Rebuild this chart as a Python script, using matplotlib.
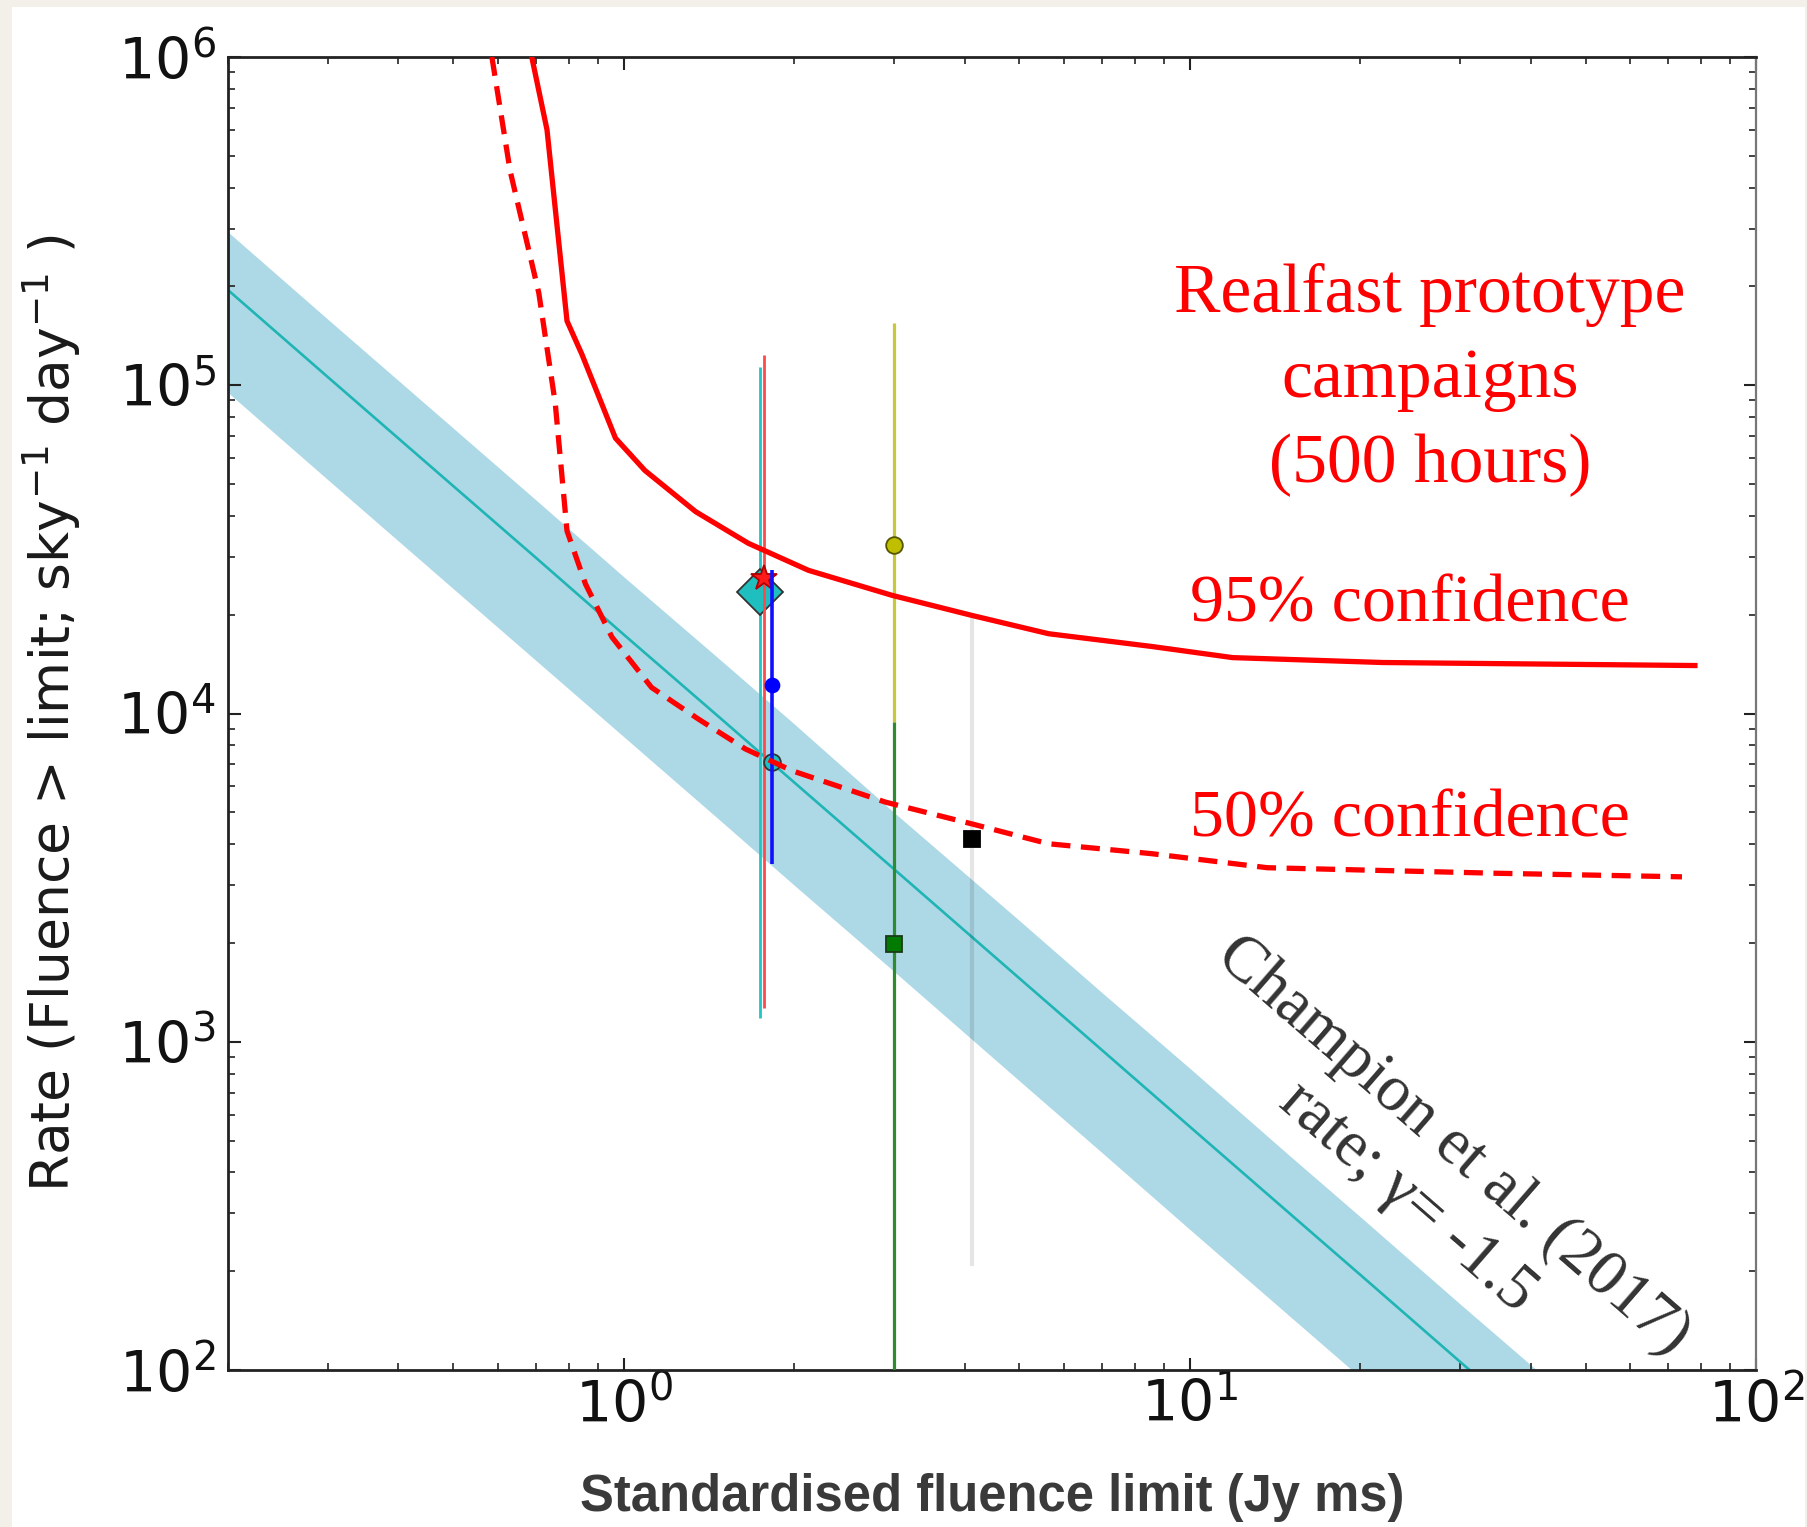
import matplotlib
matplotlib.use("Agg")
import matplotlib.pyplot as plt
from matplotlib.patches import Rectangle

# Champion et al. (2017) rate band, gamma = -1.5
model_fluence = [0.2, 0.3, 0.5, 0.7, 1.0, 1.5, 2.0, 3.0, 5.0, 7.0, 10.0, 15.0, 20.0, 30.0, 45.0]
model_rate = [1.95e5, 1.06e5, 4.93e4, 2.98e4, 1.74e4, 9.5e3, 6.17e3, 3.36e3, 1.56e3, 942, 551, 300, 195, 106, 57.8]
model_upper = [2.93e5, 1.59e5, 7.4e4, 4.47e4, 2.61e4, 1.43e4, 9.3e3, 5.0e3, 2.34e3, 1.41e3, 830, 450, 293, 159, 87]
model_lower = [9.5e4, 5.16e4, 2.4e4, 1.45e4, 8.5e3, 4.63e3, 3.0e3, 1.64e3, 760, 459, 268, 146, 95, 52, 28]

# Realfast prototype campaign limits
c95_fluence = [0.688, 0.732, 0.794, 0.844, 0.967, 1.09, 1.34, 1.66, 2.12, 2.98, 4.12, 5.63, 8.57, 11.9, 21.9, 78.0]
c95_rate = [1.0e6, 6.0e5, 1.57e5, 1.24e5, 6.9e4, 5.5e4, 4.12e4, 3.3e4, 2.73e4, 2.29e4, 1.99e4, 1.75e4, 1.60e4, 1.48e4, 1.43e4, 1.40e4]
c50_fluence = [0.585, 0.63, 0.708, 0.757, 0.794, 0.856, 0.953, 1.12, 1.357, 1.64, 1.98, 2.90, 4.12, 5.63, 8.57, 13.7, 35.0, 74.0]
c50_rate = [1.0e6, 4.5e5, 1.91e5, 8.8e4, 3.6e4, 2.48e4, 1.71e4, 1.2e4, 9.6e3, 7.8e3, 6.7e3, 5.37e3, 4.61e3, 4.01e3, 3.74e3, 3.39e3, 3.26e3, 3.18e3]

# Survey rate measurements: fluence, rate, lower end, upper end
surv_cyan = (1.74, 2.34e4, 1.18e3, 1.14e5)
surv_red = (1.77, 2.58e4, 1.27e3, 1.24e5)
surv_blue = (1.83, 1.22e4, 3.49e3, 2.73e4)
surv_teal = (1.83, 7.14e3)
surv_yellow = (3.0, 3.25e4, 9.4e3, 1.55e5)
surv_green = (3.0, 1.99e3, 10.0, 9.4e3)
surv_black = (4.13, 4.15e3, 207.0, 1.96e4)

W, H = 1808, 1527
fig = plt.figure(figsize=(W / 100, H / 100), dpi=100)
fig.patch.set_facecolor("#f3f0e9")
fig.patches.append(Rectangle((12 / W, 0), (1805 - 12) / W, 1 - 7 / H,
                             transform=fig.transFigure, facecolor="white",
                             edgecolor="none", zorder=-10))

ax = fig.add_axes([228 / W, 1 - 1370 / H, (1756 - 228) / W, (1370 - 57) / H])
ax.set_zorder(1)
ax.set_facecolor("white")
ax.set_xscale("log")
ax.set_yscale("log")
ax.set_xlim(0.2, 100)
ax.set_ylim(100, 1e6)

ax.fill_between(model_fluence, model_lower, model_upper, color="#add8e6", lw=0, zorder=1)
ax.plot(model_fluence, model_rate, color="#1fb5b5", lw=1.9, zorder=2)


def survey(pt, marker, ms, mfc, mec, ecolor, lw=2.0, z=3):
    x, y, lo, hi = pt
    ax.errorbar([x], [y], yerr=[[y - lo], [hi - y]], fmt=marker, ms=ms,
                mfc=mfc, mec=mec, mew=1.3, ecolor=ecolor, elinewidth=lw,
                capsize=0, zorder=z)


survey(surv_cyan, "D", 23, "#1fbfbf", "#333333", "#22c4c4", z=3)
survey(surv_red, "*", 19, "#ff1a1a", "#b00000", "#ff4a4a", z=4)
ax.plot([surv_teal[0]], [surv_teal[1]], "o", ms=12, mfc="#1fbfbf", mec="#333333", mew=1.3, zorder=4)
survey(surv_blue, "o", 10, "#0000ff", "#0000ff", "#1010ff", lw=2.6, z=5)
survey(surv_yellow, "o", 12, "#bfbf00", "#555500", "#c8c83a", lw=2.3, z=3)
survey(surv_green, "s", 12, "#007a00", "#1a3a1a", "#2e8b2e", lw=2.3, z=4)
survey(surv_black, "s", 12, "black", "black", (0, 0, 0, 0.1), lw=3.0, z=3)

ax.plot(c95_fluence, c95_rate, color="red", lw=3.8, zorder=6)
ax.plot(c50_fluence, c50_rate, color="red", lw=3.8, ls=(0, (3.6, 2.0)), zorder=6)

# axes styling
for side in ("left", "bottom", "top"):
    ax.spines[side].set_linewidth(2.0)
    ax.spines[side].set_color("#222222")
ax.spines["right"].set_linewidth(1.6)
ax.spines["right"].set_color("#777777")
ax.tick_params(which="both", direction="in", top=True, right=True, colors="#222222")
ax.tick_params(which="major", length=9, width=1.5)
ax.tick_params(which="minor", length=5, width=1.2)
ax.tick_params(axis="x", which="major", labelsize=41, pad=6, labelcolor="#111111")
ax.tick_params(axis="y", which="major", labelsize=41, pad=9, labelcolor="#111111")
ax.set_xticks([1, 10, 100])
ax.set_xticklabels([r"$10^{0}$", r"$10^{1}$", r"$10^{2}$"])
ax.set_yticks([1e2, 1e3, 1e4, 1e5, 1e6])
ax.set_yticklabels([r"$10^{2}$", r"$10^{3}$", r"$10^{4}$", r"$10^{5}$", r"$10^{6}$"])

ax.set_xlabel("Standardised fluence limit (Jy ms)", fontsize=36.5, fontweight="bold",
              family="Liberation Sans", color="#3a3a3a")
ax.xaxis.set_label_coords(0.5, -(1497 - 1370) / (1370 - 57))
ax.xaxis.label.set_va("center")
ax.set_ylabel(r"Rate (Fluence > limit; sky$^{-1}$ day$^{-1}$ )", fontsize=38.5,
              family="DejaVu Sans", color="#1a1a1a", va="center")
ax.yaxis.set_label_coords(-(228 - 52) / (1756 - 228), 0.5)

serif = ["Liberation Serif", "DejaVu Serif"]
fig.text(1430 / W, 1 - 380 / H, "Realfast prototype\ncampaigns\n(500 hours)",
         color="red", fontsize=50, family=serif, ha="center", va="center",
         multialignment="center", linespacing=1.45, zorder=5)
fig.text(1410 / W, 1 - 605 / H, "95% confidence", color="red", fontsize=49,
         family=serif, ha="center", va="center", zorder=5)
fig.text(1410 / W, 1 - 820 / H, "50% confidence", color="red", fontsize=49,
         family=serif, ha="center", va="center", zorder=5)
fig.text(1430 / W, 1 - 1172 / H, "Champion et al. (2017)\nrate; γ= -1.5",
         color="#333333", fontsize=47, family=serif, ha="center", va="center",
         multialignment="center", rotation=-41, rotation_mode="anchor",
         linespacing=1.2, zorder=5)

fig.savefig("out.png", dpi=100, facecolor=fig.get_facecolor())
